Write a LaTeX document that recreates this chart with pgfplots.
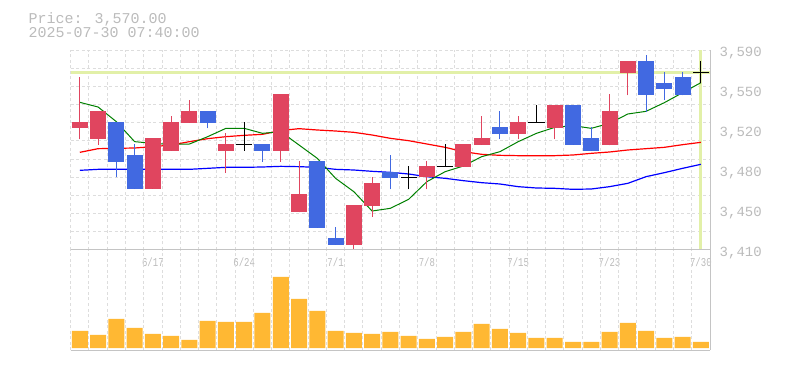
\documentclass[border=0pt]{standalone}
\usepackage{pgfplots}
\pgfplotsset{compat=1.18}
\usepackage{pgfplotstable}
\usepackage{fontspec}
\setmainfont{Liberation Mono}
\newfontfamily\xlab[FakeStretch=0.75]{Liberation Mono}
\definecolor{cred}{HTML}{E0455F}
\definecolor{cblue}{HTML}{4169E1}
\definecolor{cvol}{HTML}{FFB833}
\definecolor{ctxt}{HTML}{BBBBBB}
\definecolor{cgrid}{HTML}{DDDDDD}
\definecolor{caxis}{HTML}{C4C4C4}
\definecolor{cnow}{HTML}{E2F0A8}
\definecolor{mgreen}{HTML}{008000}
\definecolor{mred}{HTML}{FF0000}
\definecolor{mblue}{HTML}{0000FF}

% red candles: x, body low, body high, wick low, wick high
\pgfplotstableread{
x bl bh wl wh
0 3520.1 3525.5 3509.9 3566.0
1 3510.2 3535.1 3504.8 3535.1
4 3465.2 3510.8 3465.2 3510.8
5 3499.4 3525.2 3499.4 3530.6
6 3524.6 3535.1 3524.6 3545.0
8 3499.4 3505.4 3479.6 3515.6
11 3499.4 3550.4 3489.5 3550.4
12 3444.2 3460.4 3444.2 3490.4
15 3414.8 3450.8 3409.4 3450.8
16 3449.9 3470.3 3440.0 3476.0
19 3475.4 3485.6 3464.9 3490.4
21 3485.0 3505.4 3485.0 3505.4
22 3504.8 3510.8 3504.8 3530.6
24 3514.4 3525.2 3509.9 3530.6
26 3519.8 3540.5 3509.9 3540.5
29 3504.5 3535.1 3504.5 3550.4
30 3569.6 3580.1 3549.5 3580.1
}\redc
% blue candles
\pgfplotstableread{
x bl bh wl wh
2 3489.5 3525.2 3475.4 3525.2
3 3465.2 3495.5 3465.2 3505.4
7 3524.6 3535.1 3519.8 3535.1
10 3499.4 3505.4 3489.5 3505.4
13 3430.1 3490.4 3430.1 3490.4
14 3414.8 3420.8 3414.8 3430.7
17 3475.1 3480.2 3464.9 3495.5
23 3514.4 3520.7 3509.9 3535.1
27 3504.8 3540.5 3504.8 3540.5
28 3499.4 3510.8 3499.4 3520.7
31 3549.5 3580.1 3534.5 3585.5
32 3555.2 3560.3 3545.0 3570.2
33 3549.5 3565.7 3549.5 3570.2
}\bluec
% doji candles: x, level, wick low, wick high
\pgfplotstableread{
x lv wl wh
9 3505.1 3499.4 3525.2
18 3475.4 3464.9 3485.6
20 3485.3 3485.3 3505.4
25 3525.2 3525.2 3540.5
34 3569.9 3560.0 3580.1
}\dojic

\pgfplotsset{nomark/.style={only marks, mark=*, mark size=0pt, mark options={draw=none, fill=none}}}

\begin{document}
\begin{tikzpicture}
\useasboundingbox (0,0) rectangle (785pt,370pt);
\node[anchor=base west, inner sep=0pt, text=ctxt, font=\fontsize{15}{15}\selectfont] at (28.5pt,346.7pt) {Price: 3,570.00};
\node[anchor=base west, inner sep=0pt, text=ctxt, font=\fontsize{15}{15}\selectfont] at (28.5pt,332.3pt) {2025-07-30 07:40:00};

\begin{axis}[
  at={(70.7pt,120pt)}, anchor=south west, scale only axis,
  width=639.3pt, height=200pt,
  xmin=-0.5, xmax=34.5, ymin=3410, ymax=3590,
  axis x line*=bottom, axis y line*=right,
  axis line style={caxis, line width=1pt, -},
  major tick length=0pt,
  xtick={-0.5,0.5,...,33.5}, xticklabels={},
  ytick={3410,3426.36,3442.73,3459.09,3475.45,3491.82,3508.18,3524.55,3540.91,3557.27,3573.64,3590},
  yticklabels={},
  grid=major,
  grid style={cgrid, line width=1pt, dash pattern=on 3pt off 2.5pt},
  extra x ticks={4,9,14,19,24,29,34},
  extra x tick labels={6/17,6/24,7/1,7/8,7/15,7/23,7/30},
  extra x tick style={grid=none, xticklabel style={anchor=center, yshift=-12.5pt, text=ctxt, font=\xlab\fontsize{12}{12}\selectfont}},
  xticklabel shift=0pt,
  extra y ticks={3410,3446,3482,3518,3554,3590},
  extra y tick labels={{3,410},{3,450},{3,480},{3,520},{3,550},{3,590}},
  extra y tick style={grid=none, yticklabel style={anchor=west, inner sep=0pt, xshift=9.5pt, yshift=-2.7pt, text=ctxt, font=\fontsize{14}{14}\selectfont}},
  yticklabel shift=0pt,
]
% current price / time lines
\addplot[cnow, line width=3pt, forget plot] coordinates {(-0.5,3570) (34.5,3570)};
\addplot[cnow, line width=3pt, forget plot] coordinates {(34,3410) (34,3590)};
% moving averages
\addplot[mblue, line width=1.2pt] coordinates {
(0,3481.7) (1,3482.6) (2,3482.6) (3,3482.6) (4,3482.6) (5,3482.6) (6,3482.6) (7,3483.5) (8,3484.4) (9,3484.4) (10,3484.7) (11,3485.3)
(12,3485.0) (13,3484.4) (14,3482.6) (15,3482.0) (16,3480.8) (17,3479.9) (18,3478.4) (19,3476.0) (20,3474.5) (21,3472.4) (22,3470.6)
(23,3469.4) (24,3467.0) (25,3465.8) (26,3465.5) (27,3464.6) (28,3464.9) (29,3467.0) (30,3470.0) (31,3476.0) (32,3479.6) (33,3483.5) (34,3487.1)};
\addplot[mred, line width=1.2pt] coordinates {
(0,3497.9) (1,3501.2) (2,3501.5) (3,3501.8) (4,3503.0) (5,3504.5) (6,3507.5) (7,3510.2) (8,3512.0) (9,3513.2) (10,3514.1) (11,3517.5)
(12,3519.2) (13,3518.0) (14,3517.1) (15,3515.9) (16,3513.5) (17,3510.5) (18,3508.4) (19,3505.4) (20,3502.4) (21,3498.5) (22,3496.1)
(23,3495.2) (24,3494.9) (25,3494.9) (26,3494.9) (27,3495.5) (28,3497.0) (29,3498.2) (30,3500.0) (31,3501.2) (32,3502.4) (33,3504.8) (34,3506.9)};
\addplot[mgreen, line width=1pt] coordinates {
(0,3542.9) (1,3538.7) (2,3525.5) (3,3507.5) (4,3506.0) (5,3505.1) (6,3505.4) (7,3512.0) (8,3519.5) (9,3519.5) (10,3515.0) (11,3516.5)
(12,3504.5) (13,3492.5) (14,3474.5) (15,3462.5) (16,3445.1) (17,3447.5) (18,3455.6) (19,3471.5) (20,3480.5) (21,3485.6) (22,3494.0)
(23,3498.5) (24,3507.5) (25,3515.0) (26,3520.4) (27,3521.9) (28,3519.5) (29,3524.0) (30,3532.4) (31,3534.8) (32,3542.6) (33,3551.6) (34,3560.6)};
% wicks
\addplot[nomark, error bars/.cd, y dir=plus, y explicit, error mark=none,
  error bar style={cred, line width=1pt}] table[x=x, y=wl, y error expr=\thisrow{wh}-\thisrow{wl}] {\redc};
\addplot[nomark, error bars/.cd, y dir=plus, y explicit, error mark=none,
  error bar style={cblue, line width=1pt}] table[x=x, y=wl, y error expr=\thisrow{wh}-\thisrow{wl}] {\bluec};
\addplot[nomark, error bars/.cd, y dir=plus, y explicit, error mark=none,
  error bar style={black, line width=1pt}] table[x=x, y=wl, y error expr=\thisrow{wh}-\thisrow{wl}] {\dojic};
% bodies
\addplot[nomark, error bars/.cd, y dir=plus, y explicit, error mark=none,
  error bar style={cred, line width=16pt}] table[x=x, y=bl, y error expr=\thisrow{bh}-\thisrow{bl}] {\redc};
\addplot[nomark, error bars/.cd, y dir=plus, y explicit, error mark=none,
  error bar style={cblue, line width=16pt}] table[x=x, y=bl, y error expr=\thisrow{bh}-\thisrow{bl}] {\bluec};
\addplot[nomark, error bars/.cd, x dir=both, x fixed=0.44, error mark=none,
  error bar style={black, line width=1pt}] table[x=x, y=lv] {\dojic};
\end{axis}

\begin{axis}[
  at={(70.7pt,20pt)}, anchor=south west, scale only axis,
  width=639.3pt, height=100pt,
  xmin=-0.5, xmax=34.5, ymin=-2, ymax=98,
  axis x line*=box, axis y line*=right,
  axis line style={caxis, line width=1pt, -},
  major tick length=0pt,
  xtick={-0.5,0.5,...,33.5}, xticklabels={},
  ytick=\empty,
  xmajorgrids,
  grid style={cgrid, line width=1pt, dash pattern=on 3pt off 2.5pt},
]
\addplot[ybar, bar width=16pt, fill=cvol, draw=none] coordinates {
(0,17) (1,13) (2,29) (3,20) (4,14) (5,12) (6,8) (7,27) (8,26) (9,26) (10,35) (11,71)
(12,49) (13,37) (14,17) (15,15) (16,14) (17,16) (18,12) (19,9) (20,11) (21,16) (22,24)
(23,19) (24,15) (25,10) (26,10) (27,6) (28,6) (29,16) (30,25) (31,17) (32,10) (33,11) (34,6)};
\end{axis}
\end{tikzpicture}
\end{document}
